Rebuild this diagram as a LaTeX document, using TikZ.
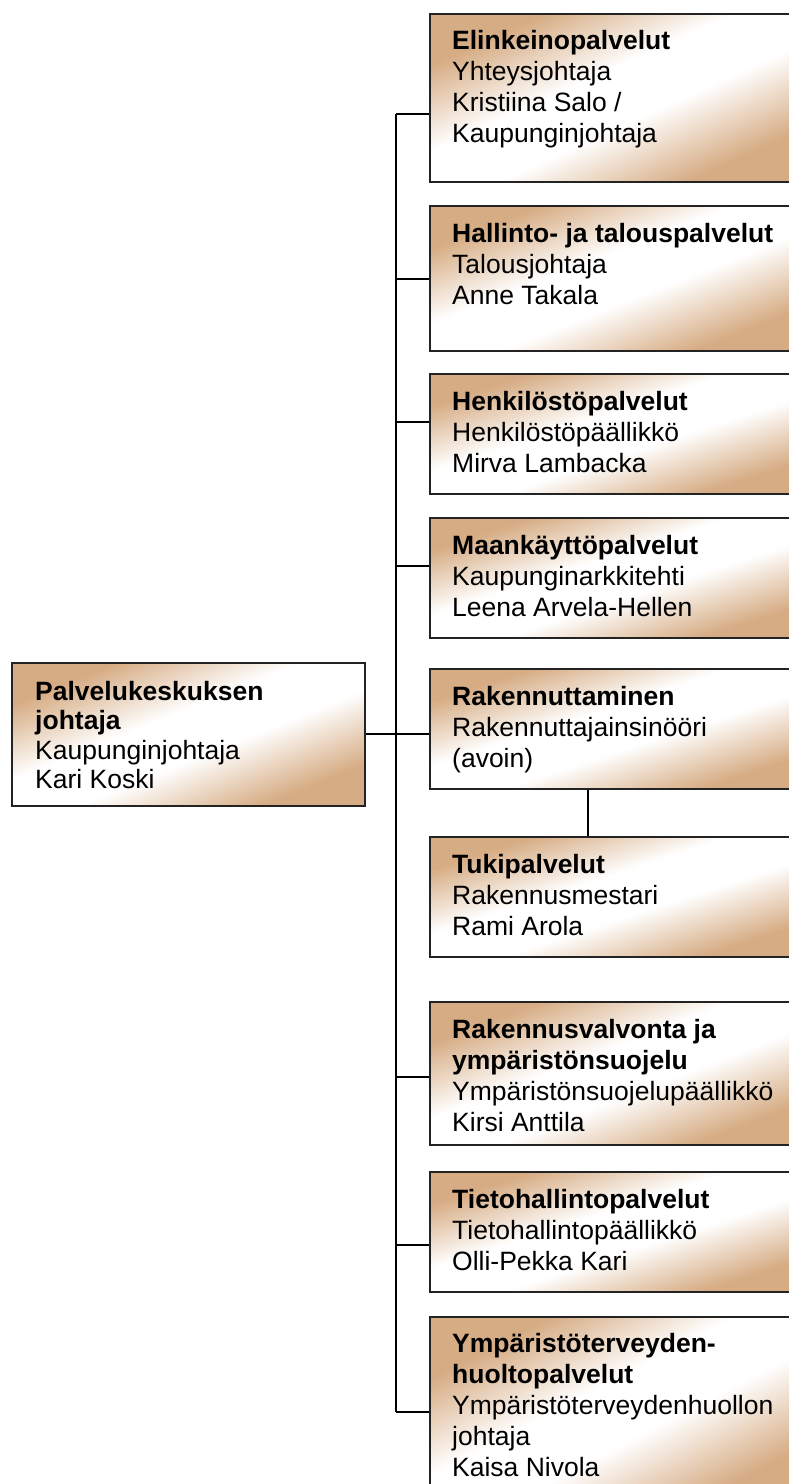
\documentclass[tikz,border=0pt]{standalone}
\usepackage{fontspec}
\setmainfont{Liberation Sans}
\definecolor{tanc}{RGB}{214,172,132}
\definecolor{edgec}{RGB}{35,35,35}
\pgfdeclarehorizontalshading{tanband}{100bp}{color(0bp)=(tanc); color(27bp)=(tanc); color(44bp)=(white); color(56bp)=(white); color(73bp)=(tanc); color(100bp)=(tanc)}
\begin{document}
\begin{tikzpicture}[x=1pt,y=-1pt,
  box/.style={draw=edgec, line width=1.6pt, shading=tanband, inner sep=0pt, rectangle},
  rbox/.style={box, minimum width=370pt},
  label/.style={anchor=north west, inner sep=0pt, align=left, font={\fontsize{26.5}{31}\selectfont}},
  llabel/.style={label, font={\fontsize{26.5}{29.5}\selectfont}},
  conn/.style={draw=black, line width=1.5pt}]
\useasboundingbox (0,0) rectangle (789,1484);
\clip (0,0) rectangle (789,1484);

% boxes
\node[box, minimum width=353pt, minimum height=143pt, shading angle=-67.9] (L) at (188.5,734.5) {};
\node[rbox, minimum height=168pt, shading angle=-65.6] (b1) at (615,98) {};
\node[rbox, minimum height=145pt, shading angle=-68.6] (b2) at (615,278.5) {};
\node[rbox, minimum height=120pt, shading angle=-72.0] (b3) at (615,434) {};
\node[rbox, minimum height=120pt, shading angle=-72.0] (b4) at (615,578) {};
\node[rbox, minimum height=120pt, shading angle=-72.0] (b5) at (615,729) {};
\node[rbox, minimum height=120pt, shading angle=-72.0] (b6) at (615,897) {};
\node[rbox, minimum height=143pt, shading angle=-68.9] (b7) at (615,1073.5) {};
\node[rbox, minimum height=120pt, shading angle=-72.0] (b8) at (615,1232) {};
\node[rbox, minimum height=193pt, shading angle=-62.5] (b9) at (615,1413.5) {};

% texts
\node[llabel] (tL) at (35,681) {\textbf{Palvelukeskuksen}\\\textbf{johtaja}\\Kaupunginjohtaja\\Kari Koski};
\node[label] (t1) at (452,30) {\textbf{Elinkeinopalvelut}\\Yhteysjohtaja\\Kristiina Salo /\\Kaupunginjohtaja};
\node[label] (t2) at (452,223) {\textbf{Hallinto- ja talouspalvelut}\\Talousjohtaja\\Anne Takala};
\node[label] (t3) at (452,391) {\textbf{Henkilöstöpalvelut}\\Henkilöstöpäällikkö\\Mirva Lambacka};
\node[label] (t4) at (452,535) {\textbf{Maankäyttöpalvelut}\\Kaupunginarkkitehti\\Leena Arvela-Hellen};
\node[label] (t5) at (452,686) {\textbf{Rakennuttaminen}\\Rakennuttajainsinööri\\(avoin)};
\node[label] (t6) at (452,854) {\textbf{Tukipalvelut}\\Rakennusmestari\\Rami Arola};
\node[label] (t7) at (452,1019) {\textbf{Rakennusvalvonta ja}\\\textbf{ympäristönsuojelu}\\Ympäristönsuojelupäällikkö\\Kirsi Anttila};
\node[label] (t8) at (452,1189) {\textbf{Tietohallintopalvelut}\\Tietohallintopäällikkö\\Olli-Pekka Kari};
\node[label] (t9) at (452,1333) {\textbf{Ympäristöterveyden-}\\\textbf{huoltopalvelut}\\Ympäristöterveydenhuollon\\johtaja\\Kaisa Nivola};

% spine coordinates
\coordinate (s1) at (396,114);
\coordinate (s2) at (396,279);
\coordinate (s3) at (396,422);
\coordinate (s4) at (396,566);
\coordinate (s5) at (396,734);
\coordinate (s7) at (396,1077);
\coordinate (s8) at (396,1245);
\coordinate (s9) at (396,1412);
\coordinate (c56) at (588,0);

% connectors
\draw[conn] (s1) -- (s9);
\draw[conn] (s1) -- (s1 -| b1.west);
\draw[conn] (s2) -- (s2 -| b2.west);
\draw[conn] (s3) -- (s3 -| b3.west);
\draw[conn] (s4) -- (s4 -| b4.west);
\draw[conn] (L.east |- s5) -- (s5 -| b5.west);
\draw[conn] (s7) -- (s7 -| b7.west);
\draw[conn] (s8) -- (s8 -| b8.west);
\draw[conn] (s9) -- (s9 -| b9.west);
\draw[conn] (b5.south -| c56) -- (b6.north -| c56);
\end{tikzpicture}
\end{document}
